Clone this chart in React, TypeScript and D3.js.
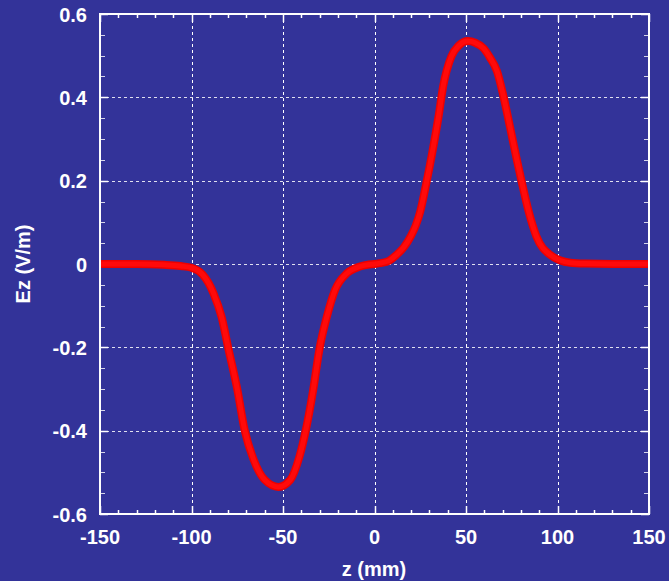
import React from "react";
import * as d3 from "d3";

const zValues = [-150, -130, -115, -106, -100, -94, -88, -83.5, -80, -75, -71, -66, -60, -52.5, -46, -41, -37.5, -33.5, -30, -26, -21.5, -15, -8, -3, 0, 3, 8, 12, 16, 20, 22.5, 25, 28.5, 31.5, 35, 37.5, 42, 46, 51, 55, 59.5, 63, 67, 70.5, 74, 77.5, 80.5, 84, 88.5, 96, 107, 115, 130, 150];
const ezValues = [0, 0, -0.002, -0.005, -0.009, -0.025, -0.07, -0.128, -0.2, -0.3, -0.398, -0.47, -0.518, -0.535, -0.518, -0.462, -0.398, -0.302, -0.202, -0.126, -0.062, -0.022, -0.006, -0.001, 0, 0.002, 0.008, 0.022, 0.04, 0.068, 0.092, 0.126, 0.198, 0.266, 0.354, 0.426, 0.498, 0.524, 0.535, 0.531, 0.518, 0.496, 0.462, 0.402, 0.33, 0.256, 0.196, 0.13, 0.066, 0.022, 0.003, 0.001, 0, 0];

const xMajorTicks = [-150, -100, -50, 0, 50, 100, 150];
const yMajorTicks = [-0.6, -0.4, -0.2, 0, 0.2, 0.4, 0.6];
const yTickLabels = ["-0.6", "-0.4", "-0.2", "0", "0.2", "0.4", "0.6"];

const W = 669, H = 581;
const L = 100, R = 649, T = 14, B = 514;
const BG = "#333399";
const FONT = "'Liberation Sans', Arial, Helvetica, sans-serif";

export default function App() {
  const x = d3.scaleLinear().domain([-150, 150]).range([L, R]);
  const y = d3.scaleLinear().domain([-0.6, 0.6]).range([B, T]);
  const xMinor = d3.range(-150, 151, 10).filter((v) => v % 50 !== 0);
  const yMinor = d3.range(-12, 13, 1).map((k) => k * 0.05).filter((_, i) => i % 4 !== 0);
  const pts: [number, number][] = zValues.map((z, i) => [z, ezValues[i]]);
  const line = d3
    .line<[number, number]>()
    .x((d) => x(d[0]))
    .y((d) => y(d[1]))
    .curve(d3.curveMonotoneX);
  const px = (v: number) => Math.round(v) + 0.5;
  return (
    <svg
      width={W}
      height={H}
      style={{ position: "absolute", left: 0, top: 0, display: "block" }}
    >
      <rect x={0} y={0} width={W} height={H} fill={BG} />
      {/* grid */}
      {xMajorTicks.slice(1, -1).map((v) => (
        <line key={"gx" + v} x1={px(x(v))} x2={px(x(v))} y1={T} y2={B} stroke="#fff" strokeWidth={1} strokeDasharray="3,3" />
      ))}
      {yMajorTicks.slice(1, -1).map((v) => (
        <line key={"gy" + v} x1={L} x2={R} y1={px(y(v))} y2={px(y(v))} stroke="#fff" strokeWidth={1} strokeDasharray="3,3" opacity={0.85} />
      ))}
      {/* ticks */}
      {xMajorTicks.map((v) => (
        <g key={"tx" + v}>
          <line x1={px(x(v))} x2={px(x(v))} y1={B} y2={B - 8} stroke="#fff" strokeWidth={1.5} />
          <line x1={px(x(v))} x2={px(x(v))} y1={T} y2={T + 8} stroke="#fff" strokeWidth={1.5} />
        </g>
      ))}
      {xMinor.map((v) => (
        <g key={"mx" + v}>
          <line x1={px(x(v))} x2={px(x(v))} y1={B} y2={B - 4} stroke="#fff" strokeWidth={1.5} />
          <line x1={px(x(v))} x2={px(x(v))} y1={T} y2={T + 4} stroke="#fff" strokeWidth={1.5} />
        </g>
      ))}
      {yMajorTicks.map((v) => (
        <g key={"ty" + v}>
          <line x1={L} x2={L + 8} y1={px(y(v))} y2={px(y(v))} stroke="#fff" strokeWidth={1.5} />
          <line x1={R} x2={R - 8} y1={px(y(v))} y2={px(y(v))} stroke="#fff" strokeWidth={1.5} />
        </g>
      ))}
      {yMinor.map((v) => (
        <g key={"my" + v}>
          <line x1={L} x2={L + 5} y1={px(y(v))} y2={px(y(v))} stroke="#fff" strokeWidth={1} opacity={0.8} />
          <line x1={R} x2={R - 5} y1={px(y(v))} y2={px(y(v))} stroke="#fff" strokeWidth={1} opacity={0.8} />
        </g>
      ))}
      {/* curve */}
      <path d={line(pts) || ""} fill="none" stroke="#ee0000" strokeWidth={8} strokeLinejoin="round" />
      <path d={line(pts) || ""} fill="none" stroke="#ff0a0a" strokeWidth={5} strokeLinejoin="round" />
      {/* border */}
      <rect x={L} y={T} width={R - L} height={B - T} fill="none" stroke="#fff" strokeWidth={2} />
      {/* tick labels */}
      {xMajorTicks.map((v) => (
        <text key={"lx" + v} x={x(v)} y={544} textAnchor="middle" fill="#fff" fontFamily={FONT} fontWeight="bold" fontSize={20}>
          {String(v)}
        </text>
      ))}
      {yMajorTicks.map((v, i) => (
        <text key={"ly" + v} x={87} y={y(v) + 7.5} textAnchor="end" fill="#fff" fontFamily={FONT} fontWeight="bold" fontSize={20}>
          {yTickLabels[i]}
        </text>
      ))}
      <text x={374} y={576} textAnchor="middle" fill="#fff" fontFamily={FONT} fontWeight="bold" fontSize={20}>
        z (mm)
      </text>
      <text
        transform={`translate(30,${(T + B) / 2}) rotate(-90)`}
        textAnchor="middle"
        fill="#fff"
        fontFamily={FONT}
        fontWeight="bold"
        fontSize={20}
      >
        Ez (V/m)
      </text>
    </svg>
  );
}
